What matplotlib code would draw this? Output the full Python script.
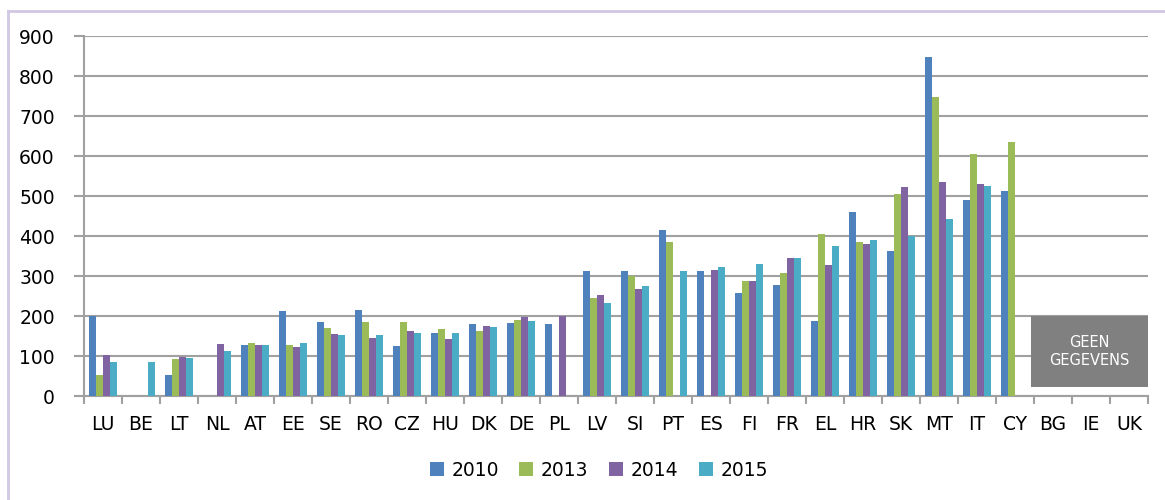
import numpy as np
import matplotlib
matplotlib.use('Agg')
from matplotlib import pyplot as plt
from matplotlib.patches import Rectangle
from matplotlib.lines import Line2D

countries = ['LU','BE','LT','NL','AT','EE','SE','RO','CZ','HU','DK','DE','PL','LV',
             'SI','PT','ES','FI','FR','EL','HR','SK','MT','IT','CY','BG','IE','UK']
nan = np.nan
v2010 = [199, nan, 53, nan, 128, 213, 186, 215, 126, 158, 180, 182, 179, 312,
         312, 415, 312, 257, 277, 188, 461, 362, 847, 491, 512, nan, nan, nan]
v2013 = [52, nan, 92, nan, 133, 128, 170, 186, 185, 167, 162, 190, nan, 244,
         299, 384, nan, 287, 307, 406, 384, 504, 747, 605, 636, nan, nan, nan]
v2014 = [102, nan, 97, 130, 128, 123, 155, 144, 162, 142, 176, 197, 201, 253,
         267, nan, 316, 287, 346, 328, 379, 522, 534, 531, nan, nan, nan, nan]
v2015 = [85, 85, 94, 113, 128, 133, 152, 152, 157, 157, 172, 188, nan, 232,
         275, 313, 322, 331, 344, 376, 389, 399, 443, 525, nan, nan, nan, nan]
years = ['2010', '2013', '2014', '2015']
colors = ['#4F81BD', '#9BBB59', '#8064A2', '#4BACC6']
no_data_label = 'GEEN\nGEGEVENS'

fig = plt.figure(figsize=(11.65, 5), dpi=100)
ax = fig.add_axes([84/1165, 104/500, (1148-84)/1165, 360/500])

x = np.arange(len(countries))
w = 0.185
for i, (vals, c) in enumerate(zip([v2010, v2013, v2014, v2015], colors)):
    ax.bar(x + (i - 1.5) * w, vals, width=w, color=c, label=years[i], zorder=3)

ax.set_xlim(-0.5, len(countries) - 0.5)
ax.set_ylim(0, 900)
ax.set_yticks(range(0, 901, 100))
ax.yaxis.grid(True, color='#A0A0A0', linewidth=1.5, zorder=0)
ax.set_axisbelow(True)
ax.set_xticks(x)
ax.set_xticklabels(countries)
ax.set_xticks(np.arange(-0.5, len(countries)), minor=True)
ax.tick_params(axis='x', which='major', length=0, pad=14, labelsize=13.5)
ax.tick_params(axis='x', which='minor', length=6, width=1.5, color='#A0A0A0')
ax.tick_params(axis='y', length=7, width=1.5, color='#A0A0A0', labelsize=13.5, pad=14)
for s in ['top', 'right']:
    ax.spines[s].set_visible(False)
for s in ['left', 'bottom']:
    ax.spines[s].set_color('#A0A0A0')
    ax.spines[s].set_linewidth(1.5)

# no-data box over BG, IE, UK
ax.add_patch(Rectangle((24.42, 22), 3.08, 178, facecolor='#808080', edgecolor='none', zorder=4))
ax.text(25.96, 111, no_data_label, ha='center', va='center', color='white',
        fontsize=10.5, linespacing=1.3, zorder=5)

leg = fig.legend(loc='center', bbox_to_anchor=(0.514, 0.06), ncol=4, frameon=False,
                 fontsize=13.5, handlelength=0.75, handleheight=0.75, handletextpad=0.4,
                 columnspacing=1.1)

# outer frame
fig.add_artist(Line2D([8/1165, 8/1165], [0, 1 - 11/500], color='#D0C8E4', linewidth=2))
fig.add_artist(Line2D([8/1165, 1], [1 - 11/500, 1 - 11/500], color='#D0C8E4', linewidth=2))

fig.savefig('out.png', dpi=100)
